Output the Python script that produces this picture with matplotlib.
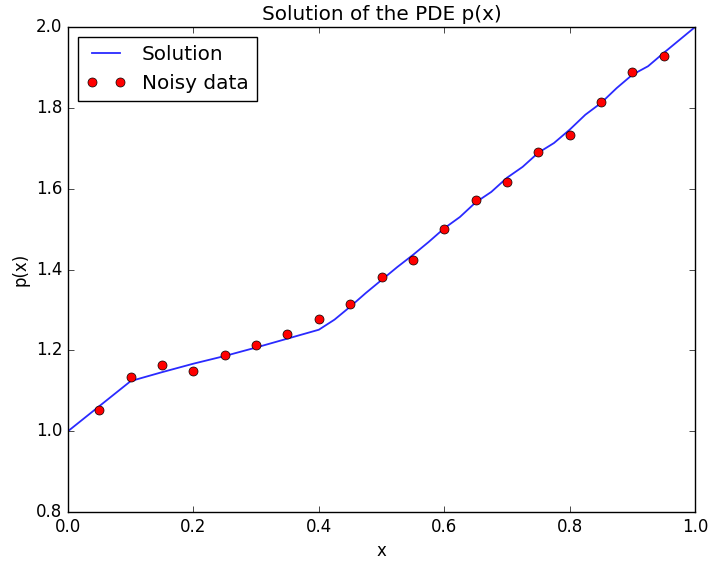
import numpy as np
import matplotlib
matplotlib.use("Agg")
import matplotlib.pyplot as plt

plt.style.use("classic")
plt.rcParams["font.size"] = 12

# solution curve p(x)
x_sol = [0.0, 0.1, 0.15, 0.2, 0.25, 0.3, 0.35, 0.375, 0.4, 0.425, 0.45,
         0.475, 0.5, 0.525, 0.55, 0.575, 0.6, 0.625, 0.65, 0.675, 0.7,
         0.725, 0.75, 0.775, 0.8, 0.825, 0.85, 0.875, 0.9, 0.925, 0.95,
         0.975, 1.0]
p_sol = [1.0, 1.124, 1.146, 1.167, 1.186, 1.207, 1.229, 1.240, 1.251,
         1.276, 1.308, 1.342, 1.374, 1.406, 1.436, 1.468, 1.502, 1.530,
         1.566, 1.592, 1.627, 1.654, 1.689, 1.713, 1.746, 1.783, 1.812,
         1.849, 1.882, 1.903, 1.936, 1.968, 2.0]

# noisy observations
x_obs = [0.05, 0.1, 0.15, 0.2, 0.25, 0.3, 0.35, 0.4, 0.45, 0.5,
         0.55, 0.6, 0.65, 0.7, 0.75, 0.8, 0.85, 0.9, 0.95]
p_obs = [1.052, 1.134, 1.164, 1.149, 1.189, 1.213, 1.241, 1.278, 1.315,
         1.382, 1.424, 1.500, 1.572, 1.617, 1.691, 1.733, 1.815, 1.889,
         1.929]

fig = plt.figure(figsize=(7.1, 5.63), dpi=100, facecolor="white")
ax = fig.add_axes([0.0958, 0.0906, 0.8832, 0.8614])

ax.plot(x_sol, p_sol, color="#2a2aff", linewidth=1.3, label="Solution")
ax.plot(x_obs, p_obs, "ro", markersize=6.5, label="Noisy data")

ax.set_xlim(0, 1)
ax.set_ylim(0.8, 2.0)
ax.set_xlabel("x")
ax.set_ylabel("p(x)")
ax.set_title("Solution of the PDE p(x)")
ax.legend(loc="upper left")

fig.savefig("out.png", dpi=100, facecolor="white")
